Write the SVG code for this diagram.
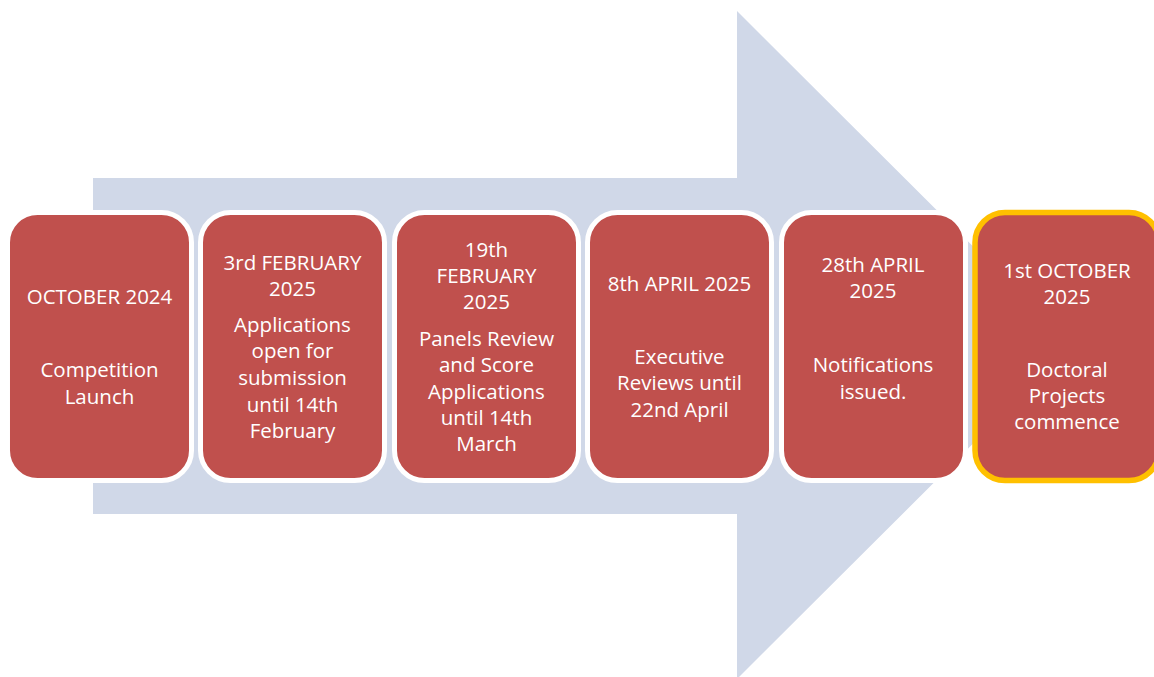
<svg xmlns="http://www.w3.org/2000/svg" width="1154" height="677" viewBox="0 0 1154 677">
<style>
.box{fill:#C0504D;stroke:#FFFFFF;stroke-width:5}
.hl{stroke:#FFC000;stroke-width:5.5}
text{font-family:"Open Sans","Liberation Sans",sans-serif;font-size:20.5px;fill:#FFFFFF;text-anchor:middle}
</style>
<rect width="1154" height="677" fill="#FFFFFF"/>
<g id="connectors">
<polygon id="arrow" points="93,178 737,178 737,11 1072,345 737,679 737,514 93,514" fill="#D0D8E8"/>
</g>
<g id="n1">
<rect class="box" x="7.5" y="212.5" width="184" height="268" rx="30"/>
<text x="99.5" y="304">OCTOBER 2024</text>
<text x="99.5" y="377.3">Competition</text>
<text x="99.5" y="404">Launch</text>
</g>
<g id="n2">
<rect class="box" x="200.5" y="212.5" width="184" height="268" rx="30"/>
<text x="292.5" y="270">3rd FEBRUARY</text>
<text x="292.5" y="296">2025</text>
<text x="292.5" y="331.7">Applications</text>
<text x="292.5" y="358.4">open for</text>
<text x="292.5" y="385">submission</text>
<text x="292.5" y="411.8">until 14th</text>
<text x="292.5" y="437.7">February</text>
</g>
<g id="n3">
<rect class="box" x="394.5" y="212.5" width="184" height="268" rx="30"/>
<text x="486.5" y="256.7">19th</text>
<text x="486.5" y="283.3">FEBRUARY</text>
<text x="486.5" y="309.3">2025</text>
<text x="486.5" y="345.7">Panels Review</text>
<text x="486.5" y="372">and Score</text>
<text x="486.5" y="398.7">Applications</text>
<text x="486.5" y="425">until 14th</text>
<text x="486.5" y="450.7">March</text>
</g>
<g id="n4">
<rect class="box" x="587.5" y="212.5" width="184" height="268" rx="30"/>
<text x="679.5" y="291">8th APRIL 2025</text>
<text x="679.5" y="364.3">Executive</text>
<text x="679.5" y="390">Reviews until</text>
<text x="679.5" y="416.7">22nd April</text>
</g>
<g id="n5">
<rect class="box" x="781.5" y="212.5" width="184" height="268" rx="30"/>
<text x="873" y="272.3">28th APRIL</text>
<text x="873" y="298.3">2025</text>
<text x="873" y="371.7">Notifications</text>
<text x="873" y="398.7">issued.</text>
</g>
<g id="n6">
<rect class="box hl" x="975" y="212.5" width="184" height="268" rx="30"/>
<text x="1067" y="278.3">1st OCTOBER</text>
<text x="1067" y="304">2025</text>
<text x="1067" y="376.7">Doctoral</text>
<text x="1067" y="403.3">Projects</text>
<text x="1067" y="429.3">commence</text>
</g>
</svg>
